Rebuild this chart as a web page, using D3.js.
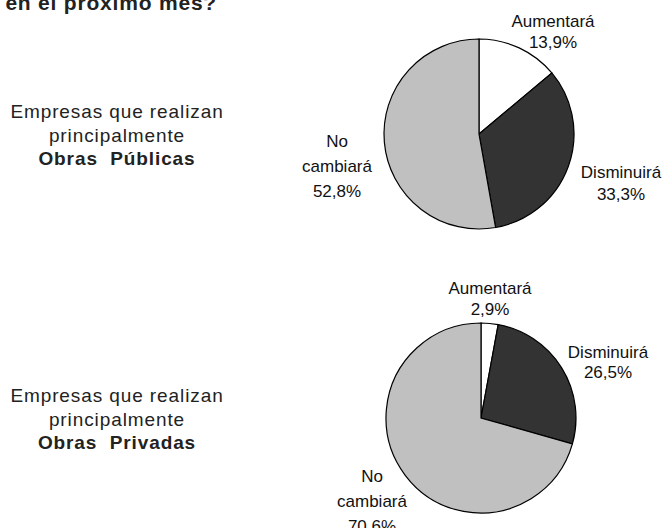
<!DOCTYPE html>
<html>
<head>
<meta charset="utf-8">
<script src="https://cdn.jsdelivr.net/npm/d3@7"></script>
<style>
  body { margin: 0; background: #fff; }
  svg { display: block; font-family: "Liberation Sans", Arial, sans-serif; }
</style>
</head>
<body>
<svg id="chart" width="662" height="528"></svg>
<script>
// categories and values
var categories = ["Aumentará", "Disminuirá", "No cambiará"];
var publicas = [13.9, 33.3, 52.8];
var privadas = [2.9, 26.5, 70.6];
var groupLines = [["Empresas que realizan", "principalmente", "Obras  Públicas"],
                  ["Empresas que realizan", "principalmente", "Obras  Privadas"]];

var svg = d3.select("#chart");
var color = d3.scaleOrdinal().domain(categories).range(["#ffffff", "#333333", "#c0c0c0"]);

// cut-off heading at the very top
svg.append("text")
  .attr("x", 217).attr("y", 9.5)
  .attr("text-anchor", "end")
  .style("font-weight", "bold")
  .style("font-size", "21px")
  .style("letter-spacing", "0.8px")
  .attr("fill", "#222")
  .text("en el próximo mes?");

var pie = d3.pie().sort(null).value(function (d) { return d; });
var arc = d3.arc().innerRadius(0).outerRadius(95);

// label positions relative to each pie centre
var charts = [
  { values: publicas, cx: 479, cy: 134, text: groupLines[0], ty: 118,
    labels: [ { dx: 74, dy: -107, lh: 21 }, { dx: 142, dy: 44, lh: 22 }, { dx: -142, dy: 13, lh: 25 } ] },
  { values: privadas, cx: 481, cy: 418, text: groupLines[1], ty: 402,
    labels: [ { dx: 9, dy: -124, lh: 21 }, { dx: 127, dy: -60, lh: 20 }, { dx: -109, dy: 64, lh: 25 } ] }
];

charts.forEach(function (c) {
  var g = svg.append("g").attr("transform", "translate(" + c.cx + "," + c.cy + ")");

  g.selectAll("path")
    .data(pie(c.values))
    .enter().append("path")
    .attr("d", arc)
    .attr("fill", function (d, i) { return color(categories[i]); })
    .attr("stroke", "#000")
    .attr("stroke-width", 1.2);

  // slice labels
  c.values.forEach(function (v, i) {
    var lab = c.labels[i];
    var words = i == 2 ? ["No", "cambiará"] : [categories[i]];
    words.push(String(v).replace(".", ",") + "%");
    var t = g.append("text")
      .attr("text-anchor", "middle")
      .style("font-size", "17px")
      .attr("fill", "#111");
    words.forEach(function (w, k) {
      t.append("tspan").attr("x", lab.dx).attr("y", lab.dy + k * lab.lh).text(w);
    });
  });

  // group description on the left
  var t = svg.append("text")
    .attr("text-anchor", "middle")
    .style("font-size", "19px")
    .style("letter-spacing", "0.9px")
    .attr("fill", "#222");
  c.text.forEach(function (w, k) {
    t.append("tspan")
      .attr("x", 117)
      .attr("y", c.ty + k * 23.5)
      .style("font-weight", k == 2 ? "bold" : null)
      .style("white-space", "pre")
      .text(w);
  });
});
</script>
</body>
</html>
